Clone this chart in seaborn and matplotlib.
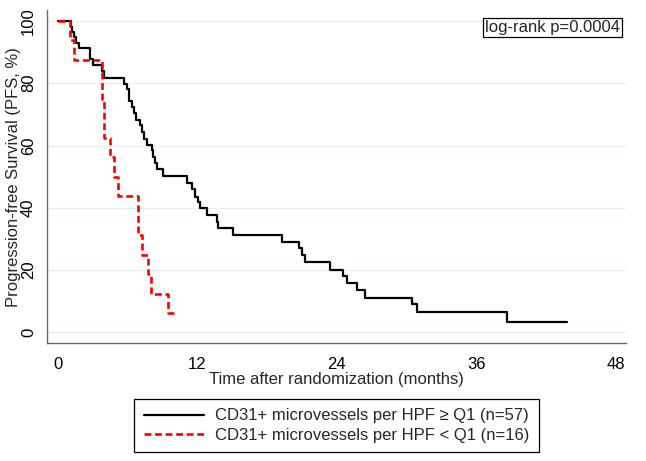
import numpy as np
import pandas as pd
import matplotlib
matplotlib.use('Agg')
import matplotlib.pyplot as plt
import seaborn as sns

# KM step points (months, % progression-free)
high_time = [0, 1.1, 1.2, 1.4, 1.6, 1.8, 2.8, 3.0, 3.8, 4.0, 5.7, 6.0, 6.16, 6.37,
             6.56, 6.74, 7.08, 7.28, 7.42, 7.66, 8.09, 8.22, 8.37, 8.52, 9.08,
             11.15, 11.53, 11.81, 12.09, 12.24, 12.82, 13.68, 13.82, 15.11, 19.27,
             20.78, 20.99, 21.27, 23.42, 24.57, 24.86, 25.77, 26.43, 30.45, 30.93,
             38.68, 43.84]
high_surv = [100, 98.2, 96.5, 94.7, 92.9, 91.2, 87.7, 86.0, 83.9, 81.8, 79.9, 78.0, 74.2, 72.4,
             70.3, 68.2, 66.6, 64.4, 62.0, 60.2, 58.6, 56.4, 54.3, 52.5, 50.2,
             47.9, 46.0, 43.6, 42.0, 39.9, 37.8, 35.6, 33.5, 31.4, 29.2,
             27.1, 25.0, 22.5, 20.2, 18.0, 15.8, 13.6, 11.2, 9.0, 6.7,
             3.4, 3.4]

low_time = [0, 1.06, 1.4, 3.78, 4.0, 4.5, 4.86, 5.2, 6.93, 7.28, 7.74, 8.03, 9.51, 10.3]
low_surv = [100, 93.75, 87.5, 75.0, 62.5, 56.25, 50.0, 43.75, 31.25, 25.0, 18.75, 12.5, 6.25, 6.25]

high_label = 'CD31+ microvessels per HPF \u2265 Q1 (n=57)'
low_label = 'CD31+ microvessels per HPF < Q1 (n=16)'
x_ticks = [0, 12, 24, 36, 48]
y_ticks = [0, 20, 40, 60, 80, 100]

df_high = pd.DataFrame({'time': high_time, 'surv': high_surv})
df_low = pd.DataFrame({'time': low_time, 'surv': low_surv})

sns.set_style('white')
plt.rcParams['font.family'] = ['Liberation Sans', 'DejaVu Sans']
plt.rcParams['font.size'] = 12

fig = plt.figure(figsize=(6.46, 4.61), dpi=100)
ax = fig.add_axes([0.0734, 0.2553, 0.8957, 0.7230])

for y in y_ticks:
    ax.axhline(y, color='#e6eff1', lw=0.9, zorder=0)

sns.lineplot(data=df_high, x='time', y='surv', ax=ax, color='black', lw=1.6,
             drawstyle='steps-post', sort=False, estimator=None, label=high_label)
sns.lineplot(data=df_low, x='time', y='surv', ax=ax, color='#ff0000', lw=1.9,
             linestyle=(0, (2.6, 1.4)), drawstyle='steps-post', sort=False,
             estimator=None, label=low_label)

ax.set_xlim(-0.886, 48.89)
ax.set_ylim(-3.47, 103.5)
ax.set_xticks(x_ticks)
ax.set_yticks(y_ticks)
ax.grid(False)

for s in ['top', 'right']:
    ax.spines[s].set_visible(False)
for s in ['left', 'bottom']:
    ax.spines[s].set_color('#6a6a6a')
    ax.spines[s].set_linewidth(1.0)
ax.tick_params(axis='both', direction='out', length=4.8, width=1.0, color='#6a6a6a',
               labelsize=12, labelcolor='black', pad=3.5)
ax.tick_params(axis='x', pad=5.0)
ax.tick_params(axis='y', labelrotation=90)
for lab in ax.get_yticklabels():
    lab.set_va('center')

ax.set_xlabel('Time after randomization (months)', fontsize=12)
ax.set_ylabel('Progression-free Survival (PFS, %)', fontsize=12)
ax.xaxis.set_label_coords(0.5, -0.087)
ax.yaxis.set_label_coords(-0.046, 0.5)

leg = ax.legend(loc='center', bbox_to_anchor=(0.521, 0.077), bbox_transform=fig.transFigure,
                frameon=True, fancybox=False, edgecolor='black', framealpha=1,
                fontsize=12, handlelength=3.6, handletextpad=0.7, borderpad=0.55,
                labelspacing=0.25)
leg.get_frame().set_linewidth(0.9)

fig.text(0.856, 0.940, 'log-rank p=0.0004', ha='center', va='center', fontsize=12,
         bbox=dict(boxstyle='square,pad=0.12', facecolor='white', edgecolor='black', lw=0.9))

fig.savefig('out.png', dpi=100)
